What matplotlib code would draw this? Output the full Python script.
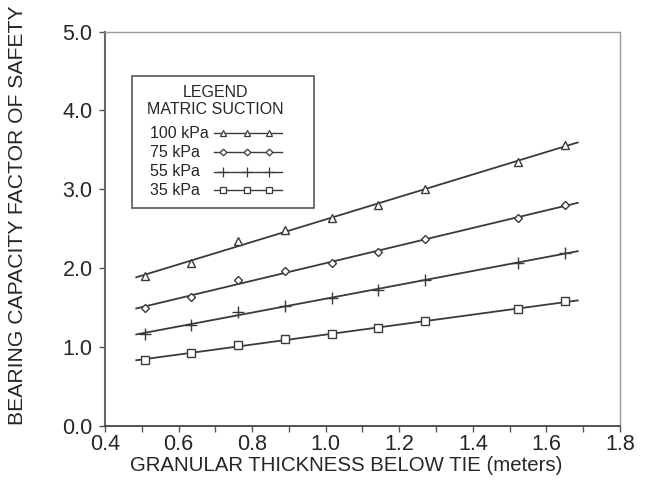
import numpy as np
import matplotlib.pyplot as plt
from matplotlib.lines import Line2D
from matplotlib.patches import Rectangle


# granular thickness below tie (m) at which factors were computed
thickness = [0.508, 0.635, 0.762, 0.889, 1.016, 1.143, 1.270, 1.524, 1.651]

# bearing capacity factor of safety, one list per matric suction
fs_100 = [1.90, 2.07, 2.34, 2.48, 2.63, 2.80, 3.00, 3.35, 3.56]
fs_75 = [1.49, 1.64, 1.85, 1.96, 2.07, 2.21, 2.37, 2.63, 2.80]
fs_55 = [1.17, 1.28, 1.44, 1.52, 1.62, 1.73, 1.85, 2.07, 2.19]
fs_35 = [0.84, 0.92, 1.03, 1.10, 1.16, 1.24, 1.33, 1.48, 1.58]

suction_labels = ["100 kPa", "75 kPa", "55 kPa", "35 kPa"]
markers = ["^", "D", "+", "s"]
marker_sizes = [5.5, 4.0, 8.0, 5.5]

fit_range = [0.485, 1.685]

x_ticks = [0.4, 0.6, 0.8, 1.0, 1.2, 1.4, 1.6, 1.8]
y_ticks = [0.0, 1.0, 2.0, 3.0, 4.0, 5.0]

INK = "#262626"
LINE = "#3a3a3a"


def main() -> None:
    plt.rcParams.update({"font.family": ["Liberation Sans", "DejaVu Sans"]})
    fig = plt.figure(figsize=(6.65, 4.87), dpi=100)
    fig.patch.set_facecolor("white")
    ax = fig.add_axes([105 / 665, 61 / 487, 515 / 665, 394.5 / 487])

    series = [fs_100, fs_75, fs_55, fs_35]
    xs = np.array(thickness)
    xfit = np.array(fit_range)
    for values, marker, ms in zip(series, markers, marker_sizes):
        slope, icpt = np.polyfit(xs, np.array(values), 1)
        ax.plot(xfit, slope * xfit + icpt, color=LINE, linewidth=1.3, zorder=2)
        ax.plot(xs, values, linestyle="none", marker=marker, markersize=ms,
                markerfacecolor="white", markeredgecolor=LINE, markeredgewidth=1.0, zorder=3)

    ax.set_xlim(0.4, 1.8)
    ax.set_ylim(0.0, 5.0)
    ax.set_xticks(x_ticks, labels=[f"{t:.1f}" for t in x_ticks])
    ax.set_xticks(np.arange(0.5, 1.8, 0.2), minor=True)
    ax.set_yticks(y_ticks, labels=[f"{t:.1f}" for t in y_ticks])
    ax.tick_params(axis="both", which="both", direction="out", length=4, width=1.0,
                   color="#555555", labelsize=15.5, labelcolor=INK)
    ax.tick_params(axis="x", pad=2)
    ax.tick_params(axis="y", pad=5)

    ax.spines["left"].set_color("#6a6a6a")
    ax.spines["left"].set_linewidth(1.5)
    ax.spines["bottom"].set_color("#444444")
    ax.spines["bottom"].set_linewidth(1.3)
    for side in ("top", "right"):
        ax.spines[side].set_color("#9a9a9a")
        ax.spines[side].set_linewidth(1.0)

    ax.set_xlabel("GRANULAR THICKNESS BELOW TIE (meters)", fontsize=14.7, color=INK)
    ax.xaxis.set_label_coords(0.468, -0.075)
    ax.set_ylabel("BEARING CAPACITY FACTOR OF SAFETY", fontsize=15.2, color=INK)
    ax.yaxis.set_label_coords(-0.152, 0.535)

    # legend box, drawn by hand so labels and samples each line up
    box = Rectangle((0.052, 0.553), 0.354, 0.333, transform=ax.transAxes,
                    facecolor="white", edgecolor="#555555", linewidth=1.2, zorder=4)
    ax.add_patch(box)
    ax.text(0.215, 0.846, "LEGEND", transform=ax.transAxes, ha="center", va="center",
            fontsize=11.5, color=INK, zorder=5)
    ax.text(0.215, 0.802, "MATRIC SUCTION", transform=ax.transAxes, ha="center", va="center",
            fontsize=11.5, color=INK, zorder=5)
    row_y = [0.742, 0.694, 0.645, 0.597]
    for label, marker, ms, y in zip(suction_labels, markers, marker_sizes, row_y):
        ax.text(0.087, y, label, transform=ax.transAxes, ha="left", va="center",
                fontsize=11.5, color=INK, zorder=5)
        ax.add_line(Line2D([0.212, 0.343], [y, y], transform=ax.transAxes,
                           color=LINE, linewidth=1.0, zorder=5))
        ax.add_line(Line2D([0.230, 0.275, 0.319], [y, y, y], transform=ax.transAxes,
                           linestyle="none", marker=marker, markersize=ms * 0.85,
                           markerfacecolor="white", markeredgecolor=LINE,
                           markeredgewidth=0.9, zorder=6))

    fig.savefig("out.png", dpi=100, facecolor="white")


if __name__ == "__main__":
    main()
